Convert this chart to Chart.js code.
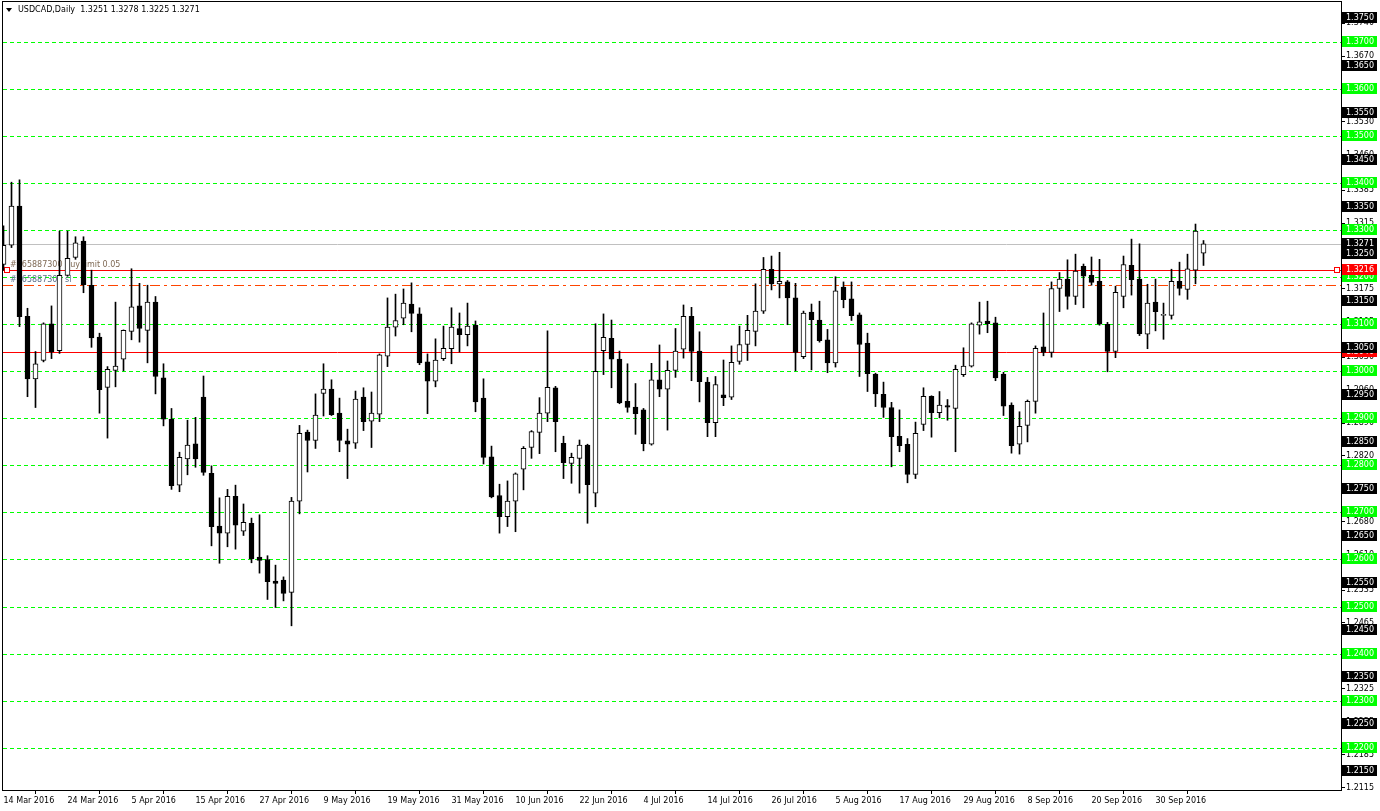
<!DOCTYPE html>
<html>
<head>
<meta charset="utf-8">
<script src="https://cdn.jsdelivr.net/npm/chart.js@4.4.0/dist/chart.umd.min.js"></script>
<style>
  html, body { margin: 0; padding: 0; background: #ffffff; }
  #wrap { width: 1380px; height: 811px; }
</style>
</head>
<body>
<div id="wrap"><canvas id="chart" width="1380" height="811"></canvas></div>
<script>
// USDCAD daily bars, 14 Mar 2016 onwards (one entry per trading day)
const opens = [
  1.3227, 1.3268, 1.3351, 1.3117, 1.2984, 1.3023, 1.3101, 1.3044, 1.3204, 1.3242,
  1.3277, 1.3183, 1.3073, 1.2966, 1.3002, 1.3026, 1.3085, 1.3139, 1.3087, 1.3147,
  1.2986, 1.2898, 1.2758, 1.2814, 1.2846, 1.2945, 1.2783, 1.2671, 1.2656, 1.2734,
  1.2660, 1.2677, 1.2605, 1.2600, 1.2554, 1.2556, 1.2530, 1.2724, 1.2871, 1.2853,
  1.2953, 1.2962, 1.2911, 1.2852, 1.2847, 1.2945, 1.2894, 1.2909, 1.3032, 1.3094,
  1.3113, 1.3143, 1.3122, 1.3020, 1.2979, 1.3027, 1.3048, 1.3091, 1.3078, 1.3098,
  1.2943, 1.2818, 1.2736, 1.2691, 1.2724, 1.2792, 1.2838, 1.2870, 1.2911, 1.2965,
  1.2847, 1.2804, 1.2815, 1.2843, 1.2741, 1.3044, 1.3070, 1.3026, 1.2936, 1.2924,
  1.2918, 1.2845, 1.2982, 1.2962, 1.3002, 1.3047, 1.3117, 1.3043, 1.2977, 1.2891,
  1.2950, 1.2945, 1.3021, 1.3057, 1.3085, 1.3128, 1.3217, 1.3186, 1.3190, 1.3156,
  1.3031, 1.3126, 1.3109, 1.3067, 1.3018, 1.3179, 1.3154, 1.3120, 1.3060, 1.2994,
  1.2951, 1.2923, 1.2862, 1.2845, 1.2781, 1.2887, 1.2947, 1.2912, 1.2927, 1.2921,
  1.2993, 1.3011, 1.3098, 1.3107, 1.3103, 1.2994, 1.2928, 1.2845, 1.2885, 1.2936,
  1.3052, 1.3040, 1.3176, 1.3196, 1.3159, 1.3223, 1.3204, 1.3191, 1.3100, 1.3042,
  1.3159, 1.3225, 1.3196, 1.3079, 1.3147, 1.3119, 1.3119, 1.3191, 1.3174, 1.3215,
  1.3251
];
const highs = [
  1.3309, 1.3402, 1.3407, 1.3134, 1.3042, 1.3103, 1.3139, 1.3298, 1.3298, 1.3286,
  1.3286, 1.3215, 1.3081, 1.3010, 1.3147, 1.3088, 1.3218, 1.3187, 1.3183, 1.3159,
  1.3016, 1.2921, 1.2828, 1.2896, 1.2902, 1.2990, 1.2799, 1.2731, 1.2749, 1.2758,
  1.2718, 1.2688, 1.2695, 1.2608, 1.2588, 1.2563, 1.2732, 1.2885, 1.2875, 1.2952,
  1.3016, 1.2982, 1.2943, 1.2877, 1.2958, 1.2965, 1.2956, 1.3037, 1.3156, 1.3164,
  1.3175, 1.3188, 1.3135, 1.3037, 1.3069, 1.3096, 1.3135, 1.3124, 1.3145, 1.3107,
  1.2984, 1.2841, 1.2760, 1.2767, 1.2784, 1.2840, 1.2874, 1.2944, 1.3086, 1.2968,
  1.2862, 1.2826, 1.2854, 1.2845, 1.3101, 1.3122, 1.3109, 1.3043, 1.3016, 1.2974,
  1.2921, 1.3017, 1.3056, 1.3022, 1.3091, 1.3141, 1.3136, 1.3084, 1.2987, 1.2989,
  1.3024, 1.3054, 1.3096, 1.3119, 1.3186, 1.3242, 1.3245, 1.3253, 1.3193, 1.3187,
  1.3128, 1.3143, 1.3149, 1.3089, 1.3201, 1.3190, 1.3190, 1.3124, 1.3081, 1.2996,
  1.2977, 1.2934, 1.2918, 1.2857, 1.2892, 1.2965, 1.2948, 1.2957, 1.2940, 1.3013,
  1.3050, 1.3103, 1.3147, 1.3149, 1.3115, 1.2998, 1.2933, 1.2914, 1.2939, 1.3054,
  1.3124, 1.3190, 1.3210, 1.3237, 1.3249, 1.3228, 1.3243, 1.3238, 1.3104, 1.3181,
  1.3245, 1.3281, 1.3271, 1.3185, 1.3196, 1.3145, 1.3217, 1.3232, 1.3249, 1.3313,
  1.3278
];
const lows = [
  1.3215, 1.3263, 1.3095, 1.2946, 1.2923, 1.3020, 1.3027, 1.3038, 1.3202, 1.3238,
  1.3167, 1.3051, 1.2911, 1.2858, 1.2967, 1.3001, 1.3067, 1.3062, 1.3018, 1.2952,
  1.2884, 1.2749, 1.2744, 1.2780, 1.2796, 1.2779, 1.2629, 1.2592, 1.2627, 1.2622,
  1.2651, 1.2593, 1.2571, 1.2515, 1.2498, 1.2512, 1.2459, 1.2697, 1.2786, 1.2836,
  1.2905, 1.2906, 1.2829, 1.2772, 1.2836, 1.2874, 1.2838, 1.2893, 1.3010, 1.3075,
  1.3099, 1.3084, 1.3014, 1.2910, 1.2967, 1.3023, 1.3016, 1.3041, 1.3054, 1.2914,
  1.2803, 1.2731, 1.2656, 1.2670, 1.2659, 1.2748, 1.2815, 1.2825, 1.2893, 1.2829,
  1.2772, 1.2762, 1.2741, 1.2677, 1.2712, 1.2993, 1.2965, 1.2931, 1.2913, 1.2866,
  1.2831, 1.2843, 1.2946, 1.2875, 1.2987, 1.3028, 1.2980, 1.2935, 1.2861, 1.2861,
  1.2927, 1.2940, 1.3015, 1.3023, 1.3054, 1.3123, 1.3173, 1.3156, 1.3099, 1.3001,
  1.3027, 1.3003, 1.3062, 1.2997, 1.3009, 1.3135, 1.3108, 1.2989, 1.2957, 1.2925,
  1.2902, 1.2797, 1.2829, 1.2763, 1.2772, 1.2874, 1.2860, 1.2901, 1.2896, 1.2829,
  1.2989, 1.3009, 1.3079, 1.3082, 1.2980, 1.2906, 1.2826, 1.2824, 1.2850, 1.2911,
  1.3033, 1.3030, 1.3127, 1.3132, 1.3142, 1.3135, 1.3183, 1.3098, 1.2999, 1.3029,
  1.3135, 1.3162, 1.3076, 1.3048, 1.3086, 1.3068, 1.3111, 1.3162, 1.3153, 1.3186,
  1.3225
];
const closes = [
  1.3268, 1.3351, 1.3116, 1.2984, 1.3016, 1.3101, 1.3041, 1.3204, 1.3240, 1.3273,
  1.3184, 1.3071, 1.2961, 1.3004, 1.3011, 1.3087, 1.3137, 1.3091, 1.3147, 1.2989,
  1.2898, 1.2757, 1.2817, 1.2843, 1.2814, 1.2785, 1.2670, 1.2656, 1.2734, 1.2673,
  1.2679, 1.2601, 1.2598, 1.2553, 1.2549, 1.2528, 1.2724, 1.2868, 1.2853, 1.2907,
  1.2962, 1.2908, 1.2853, 1.2845, 1.2941, 1.2893, 1.2911, 1.3035, 1.3094, 1.3108,
  1.3145, 1.3123, 1.3018, 1.2979, 1.3024, 1.3049, 1.3094, 1.3078, 1.3096, 1.2935,
  1.2817, 1.2733, 1.2691, 1.2724, 1.2782, 1.2836, 1.2872, 1.2911, 1.2966, 1.2893,
  1.2806, 1.2817, 1.2843, 1.2759, 1.3000, 1.3072, 1.3026, 1.2933, 1.2923, 1.2910,
  1.2846, 1.2982, 1.2962, 1.3002, 1.3043, 1.3117, 1.3042, 1.2978, 1.2891, 1.2972,
  1.2944, 1.3019, 1.3057, 1.3087, 1.3128, 1.3217, 1.3186, 1.3191, 1.3156, 1.3040,
  1.3124, 1.3110, 1.3065, 1.3018, 1.3171, 1.3152, 1.3118, 1.3057, 1.2995, 1.2952,
  1.2923, 1.2861, 1.2842, 1.2781, 1.2868, 1.2947, 1.2912, 1.2928, 1.2924, 1.3004,
  1.3011, 1.3101, 1.3105, 1.3101, 1.2986, 1.2926, 1.2842, 1.2883, 1.2936, 1.3049,
  1.3040, 1.3176, 1.3196, 1.3159, 1.3213, 1.3202, 1.3189, 1.3100, 1.3042, 1.3168,
  1.3227, 1.3195, 1.3080, 1.3145, 1.3127, 1.3120, 1.3191, 1.3176, 1.3218, 1.3298,
  1.3271
];

// date labels under the time axis, one every 8 bars
const xTickLabels = [
  '14 Mar 2016', '24 Mar 2016', '5 Apr 2016', '15 Apr 2016', '27 Apr 2016',
  '9 May 2016', '19 May 2016', '31 May 2016', '10 Jun 2016', '22 Jun 2016',
  '4 Jul 2016', '14 Jul 2016', '26 Jul 2016', '5 Aug 2016', '17 Aug 2016',
  '29 Aug 2016', '8 Sep 2016', '20 Sep 2016', '30 Sep 2016'
];
const barsPerLabel = 8;

// plain price scale ticks
const priceTicks = [
  1.2115, 1.2185, 1.2255, 1.2325, 1.2395, 1.2465, 1.2535, 1.2610, 1.2680, 1.2750,
  1.2820, 1.2890, 1.2960, 1.3030, 1.3105, 1.3175, 1.3245, 1.3315, 1.3385, 1.3460,
  1.3530, 1.3600, 1.3670, 1.3740
];

// horizontal levels drawn on the chart
const greenLevels = [1.37, 1.36, 1.35, 1.34, 1.33, 1.32, 1.31, 1.30, 1.29, 1.28,
                     1.27, 1.26, 1.25, 1.24, 1.23, 1.22];
const blackLevels = [1.375, 1.365, 1.355, 1.345, 1.335, 1.325, 1.315, 1.305, 1.295,
                     1.285, 1.275, 1.265, 1.255, 1.245, 1.235, 1.225, 1.215];
const bidPrice = 1.3271;
const buyLimitPrice = 1.3216;
const secondRedPrice = 1.3040;
const stopLossPrice = 1.3183;
const orderLabels = ['#765887300 buy limit 0.05', '#765887300 sl'];

const FONT = '8px "DejaVu Sans"';

// Build the floating bars for bodies and wicks
const bodyData = opens.map((o, i) => ({ x: i, y: [o, closes[i]] }));
const wickData = lows.map((l, i) => ({ x: i, y: [l, highs[i]] }));
const bodyColors = opens.map((o, i) => (closes[i] >= o ? '#ffffff' : '#000000'));

// Draws the terminal-style extras: level lines, order labels, border, header and price boxes
const terminalPlugin = {
  id: 'terminal',
  beforeDatasetsDraw(chart) {
    const ctx = chart.ctx;
    const area = chart.chartArea;
    const y = chart.scales.y;

    function hline(price, color, dash) {
      const py = Math.round(y.getPixelForValue(price)) + 0.5;
      ctx.save();
      ctx.strokeStyle = color;
      ctx.lineWidth = 1;
      ctx.setLineDash(dash);
      ctx.beginPath();
      ctx.moveTo(area.left, py);
      ctx.lineTo(area.right, py);
      ctx.stroke();
      ctx.restore();
    }

    ctx.save();
    ctx.beginPath();
    ctx.rect(area.left, area.top, area.right - area.left, area.bottom - area.top);
    ctx.clip();

    greenLevels.forEach(p => hline(p, '#00ff00', [4, 3]));
    hline(bidPrice, '#c0c0c0', []);
    hline(buyLimitPrice, '#ff0000', []);
    hline(secondRedPrice, '#ff0000', []);
    hline(stopLossPrice, '#ff4500', [10, 4, 3, 4]);

    // order texts just above their lines
    ctx.font = FONT;
    ctx.textBaseline = 'bottom';
    ctx.textAlign = 'left';
    ctx.fillStyle = '#7f6a55';
    ctx.fillText(orderLabels[0], area.left + 7, y.getPixelForValue(buyLimitPrice) - 1);
    ctx.fillStyle = '#5a6f8a';
    ctx.fillText(orderLabels[1], area.left + 7, y.getPixelForValue(stopLossPrice) - 1);

    // small markers at both ends of the buy limit line
    const by = Math.round(y.getPixelForValue(buyLimitPrice));
    ctx.strokeStyle = '#ff0000';
    ctx.fillStyle = '#ffffff';
    ctx.fillRect(area.left + 1.5, by - 2.5, 5, 5);
    ctx.strokeRect(area.left + 1.5, by - 2.5, 5, 5);
    ctx.fillRect(area.right - 6.5, by - 2.5, 5, 5);
    ctx.strokeRect(area.right - 6.5, by - 2.5, 5, 5);
    ctx.restore();
  },
  afterDraw(chart) {
    const ctx = chart.ctx;
    const area = chart.chartArea;
    const y = chart.scales.y;

    ctx.save();
    ctx.strokeStyle = '#000000';
    ctx.lineWidth = 1;
    ctx.strokeRect(area.left - 0.5, area.top - 0.5, area.right - area.left + 1, area.bottom - area.top + 1);

    // header
    ctx.fillStyle = '#000000';
    ctx.beginPath();
    ctx.moveTo(area.left + 3, area.top + 6);
    ctx.lineTo(area.left + 9, area.top + 6);
    ctx.lineTo(area.left + 6, area.top + 10);
    ctx.closePath();
    ctx.fill();
    const last = opens.length - 1;
    const header = 'USDCAD,Daily  ' + [opens[last], highs[last], lows[last], closes[last]]
      .map(v => v.toFixed(4)).join(' ');
    ctx.font = FONT;
    ctx.textBaseline = 'middle';
    ctx.textAlign = 'left';
    ctx.fillText(header, area.left + 15, area.top + 8);

    // price boxes on the right axis
    function box(price, bg) {
      const py = Math.round(y.getPixelForValue(price));
      ctx.fillStyle = bg;
      ctx.fillRect(area.right + 1, py - 6, 35, 11);
      ctx.fillStyle = '#ffffff';
      ctx.fillText(price.toFixed(4), area.right + 5, py);
    }
    box(secondRedPrice, '#ff0000');
    blackLevels.forEach(p => box(p, '#000000'));
    greenLevels.forEach(p => box(p, '#00ff00'));
    box(bidPrice, '#000000');
    box(buyLimitPrice, '#ff0000');
    ctx.restore();
  }
};

const ctx = document.getElementById('chart').getContext('2d');
new Chart(ctx, {
  type: 'bar',
  data: {
    datasets: [
      {
        label: 'Body',
        data: bodyData,
        grouped: false,
        barThickness: 5,
        minBarLength: 1,
        backgroundColor: bodyColors,
        borderColor: '#000000',
        borderWidth: 1,
        borderSkipped: false
      },
      {
        label: 'Wick',
        data: wickData,
        grouped: false,
        barThickness: 1,
        backgroundColor: '#000000',
        borderWidth: 0
      }
    ]
  },
  options: {
    responsive: false,
    animation: false,
    devicePixelRatio: 1,
    layout: { padding: { left: 3, top: 2, right: 0, bottom: 0 } },
    plugins: {
      legend: { display: false },
      tooltip: { enabled: false }
    },
    scales: {
      x: {
        type: 'linear',
        offset: false,
        min: -0.0625,
        max: 167.1875,
        afterBuildTicks(scale) {
          scale.ticks = xTickLabels.map((_, i) => ({ value: i * barsPerLabel }));
        },
        afterFit(scale) {
          scale.height = 21;
          scale.paddingLeft = 0;
          scale.paddingRight = 0;
        },
        grid: { drawOnChartArea: false, drawTicks: true, tickLength: 4, color: '#000000' },
        border: { display: true, color: '#000000' },
        ticks: {
          autoSkip: false,
          maxRotation: 0,
          align: 'start',
          padding: 2,
          color: '#000000',
          font: { family: 'DejaVu Sans', size: 8 },
          callback: (value, index) => xTickLabels[index]
        }
      },
      y: {
        position: 'right',
        min: 1.2110,
        max: 1.3785,
        afterBuildTicks(scale) {
          scale.ticks = priceTicks.map(v => ({ value: v }));
        },
        afterFit(scale) {
          scale.width = 39;
          scale.paddingTop = 0;
          scale.paddingBottom = 0;
        },
        grid: { drawOnChartArea: false, drawTicks: true, tickLength: 4, color: '#000000' },
        border: { display: true, color: '#000000' },
        ticks: {
          padding: 1,
          color: '#000000',
          font: { family: 'DejaVu Sans', size: 8 },
          callback: value => value.toFixed(4)
        }
      }
    }
  },
  plugins: [terminalPlugin]
});
</script>
</body>
</html>
